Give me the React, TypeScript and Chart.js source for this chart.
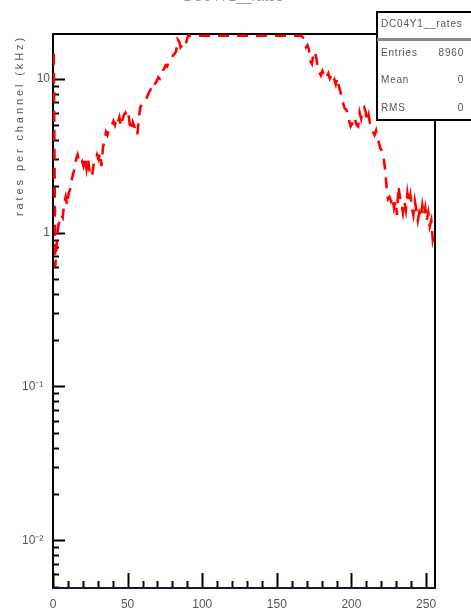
import React, { useEffect, useRef } from "react";
import { Chart, registerables } from "chart.js";

Chart.register(...registerables);

// ---- data ----
const CHANNEL_VALUES: number[] = [
  14.5, 0.6, 0.85, 1.1, 1.2, 1.3, 1.25, 1.55, 1.7, 1.5, 1.8, 1.9, 2.2, 2.4, 2.6, 3.0,
  3.2, 2.9, 2.8, 2.9, 2.7, 3.1, 2.6, 3.0, 2.5, 2.3, 2.45, 2.9, 3.0, 3.2, 3.0, 3.3,
  2.7, 3.6, 3.9, 4.5, 4.3, 4.7, 4.9, 5.0, 5.3, 5.0, 5.5, 5.2, 5.6, 4.9, 5.4, 5.8,
  6.0, 5.7, 6.0, 5.0, 4.6, 5.2, 4.9, 4.5, 4.3, 5.5, 6.5, 6.8, 7.0, 7.3, 7.4, 7.8,
  8.2, 8.5, 8.3, 8.8, 9.3, 9.6, 10.2, 10.0, 10.8, 11.3, 11.6, 12.2, 12.0, 12.8, 13.0, 13.6,
  14.2, 14.5, 15.0, 18.0, 17.5, 16.0, 16.5, 16.8, 16.2, 17.5, 19, 19, 19, 19, 19, 19,
  19, 19, 19, 19, 19, 19, 19, 19, 19, 19, 19, 19, 19, 19, 19, 19,
  19, 19, 19, 19, 19, 19, 19, 19, 19, 19, 19, 19, 19, 19, 19, 19,
  19, 19, 19, 19, 19, 19, 19, 19, 19, 19, 19, 19, 19, 19, 19, 19,
  19, 19, 19, 19, 19, 19, 19, 19, 19, 19, 19, 19, 19, 19, 19, 19,
  19, 19, 19, 19, 19, 19, 19, 18.5, 17.0, 16.0, 16.5, 15.5, 13.0, 12.5, 14.5, 15.0,
  13.5, 11.5, 11.0, 10.5, 11.2, 10.6, 10.9, 10.3, 10.8, 10.0, 10.5, 9.6, 9.9, 9.2, 10.1, 9.0,
  8.3, 7.5, 6.9, 6.4, 6.3, 5.9, 5.3, 4.9, 5.1, 5.6, 5.4, 5.0, 4.9, 6.0, 5.5, 6.3,
  6.5, 6.1, 5.3, 5.8, 5.1, 4.9, 4.5, 4.3, 4.6, 4.1, 3.8, 3.5, 3.4, 3.1, 2.6, 2.0,
  1.65, 1.7, 1.6, 1.7, 1.45, 1.6, 1.3, 2.0, 1.7, 1.55, 1.35, 1.6, 1.4, 1.8, 1.55, 1.75,
  1.45, 1.3, 1.6, 1.4, 1.2, 1.35, 1.25, 1.5, 1.3, 1.45, 1.2, 1.35, 1.1, 1.2, 0.9, 1.0,
];

const X_MIN = 0;
const X_MAX = 256;
const Y_MIN = 0.0049;
const Y_MAX = 19.5;
const X_TICKS = [0, 50, 100, 150, 200, 250];
const X_MINOR_STEP = 10;
const Y_TICKS = [0.01, 0.1, 1, 10];
const Y_TICK_LABELS = ["10\u207B\u00B2\u2007", "10\u207B\u00B9\u2007", "1", "10"];

const Y_TITLE = "rates per channel (kHz)";
const HIST_TITLE = "DC04Y1__rates";
const STATS_TITLE = "DC04Y1__rates";
const STATS_NAMES = ["Entries", "Mean", "RMS"];
const STATS_VALUES = ["8960", "0", "0"];

const FONT = "'Liberation Sans', Arial, sans-serif";

const framePlugin = {
  id: "rootFrame",
  beforeDatasetsDraw(chart: any) {
    const { ctx, chartArea } = chart;
    const { left, right, top, bottom } = chartArea;
    const xs = chart.scales.x;
    const ys = chart.scales.y;
    ctx.save();
    ctx.strokeStyle = "#000";
    ctx.lineWidth = 2;
    // x ticks inside
    for (let v = X_MIN; v <= X_MAX; v += X_MINOR_STEP) {
      const px = Math.round(xs.getPixelForValue(v)) + 0.5;
      const len = v % 50 === 0 ? 15 : 7;
      ctx.beginPath();
      ctx.moveTo(px, bottom);
      ctx.lineTo(px, bottom - len);
      ctx.stroke();
    }
    // y ticks inside (log)
    for (let d = -3; d <= 1; d++) {
      for (let m = 1; m <= 9; m++) {
        const v = m * Math.pow(10, d);
        if (v < Y_MIN || v > Y_MAX) continue;
        const py = Math.round(ys.getPixelForValue(v)) + 0.5;
        const len = m === 1 ? 12 : 6;
        ctx.beginPath();
        ctx.moveTo(left, py);
        ctx.lineTo(left + len, py);
        ctx.stroke();
      }
    }
    // frame
    ctx.lineWidth = 2;
    ctx.strokeStyle = "#000";
    ctx.beginPath();
    ctx.moveTo(left, bottom);
    ctx.lineTo(left, top);
    ctx.lineTo(right, top);
    ctx.lineTo(right, bottom);
    ctx.stroke();
    ctx.strokeStyle = "#14143a";
    ctx.beginPath();
    ctx.moveTo(left - 1, bottom);
    ctx.lineTo(right + 1, bottom);
    ctx.stroke();

    // y axis title
    ctx.fillStyle = "#555";
    ctx.font = `11px ${FONT}`;
    (ctx as any).letterSpacing = "2.9px";
    ctx.translate(20, top + 1);
    ctx.rotate(-Math.PI / 2);
    ctx.textAlign = "right";
    ctx.textBaseline = "middle";
    ctx.fillText(Y_TITLE, 0, 0);
    ctx.restore();
  },
  afterDraw(chart: any) {
    const { ctx } = chart;
    ctx.save();
    // partially visible histogram title at the very top
    ctx.fillStyle = "#999";
    ctx.font = `14px ${FONT}`;
    ctx.textAlign = "center";
    ctx.textBaseline = "alphabetic";
    ctx.fillText(HIST_TITLE, 233, 1);

    // stats box
    const bx = 377;
    const by = 12;
    const bw = 100;
    const bh = 108;
    ctx.fillStyle = "#fff";
    ctx.fillRect(bx, by, bw, bh);
    ctx.strokeStyle = "#000";
    ctx.lineWidth = 2;
    ctx.strokeRect(bx, by, bw, bh);
    ctx.strokeStyle = "#8a8a8a";
    ctx.lineWidth = 3;
    ctx.beginPath();
    ctx.moveTo(bx, 39.5);
    ctx.lineTo(471, 39.5);
    ctx.stroke();

    ctx.fillStyle = "#555";
    ctx.font = `10px ${FONT}`;
    (ctx as any).letterSpacing = "0.8px";
    ctx.textBaseline = "middle";
    ctx.textAlign = "left";
    ctx.fillText(STATS_TITLE, bx + 4, 24);
    const rowY = [53, 80, 108];
    for (let i = 0; i < STATS_NAMES.length; i++) {
      ctx.textAlign = "left";
      ctx.fillText(STATS_NAMES[i], bx + 4, rowY[i]);
      ctx.textAlign = "right";
      ctx.fillText(STATS_VALUES[i], 464, rowY[i]);
    }
    ctx.restore();
  },
};

export default function App() {
  const canvasRef = useRef<HTMLCanvasElement | null>(null);

  useEffect(() => {
    document.body.style.margin = "0";
    const canvas = canvasRef.current;
    if (!canvas) return;
    const points = CHANNEL_VALUES.map((v, i) => ({ x: i + 0.5, y: v }));
    const chart = new Chart(canvas, {
      type: "line",
      data: {
        datasets: [
          {
            data: points,
            borderColor: "#ff0000",
            borderWidth: 2.6,
            borderDash: [11, 8],
            pointRadius: 0,
            tension: 0,
            fill: false,
          },
        ],
      },
      options: {
        responsive: false,
        animation: false,
        events: [],
        layout: { padding: { top: 34, right: 36, left: 0, bottom: 0 } },
        plugins: {
          legend: { display: false },
          tooltip: { enabled: false },
          title: { display: false },
        },
        scales: {
          x: {
            type: "linear",
            min: X_MIN,
            max: X_MAX,
            grid: { display: false, drawTicks: false },
            border: { display: false },
            afterBuildTicks: (scale: any) => {
              scale.ticks = X_TICKS.map((v) => ({ value: v }));
            },
            afterFit: (scale: any) => {
              scale.height = 23;
            },
            ticks: {
              padding: 9,
              maxRotation: 0,
              autoSkip: false,
              color: "#555",
              font: { family: FONT, size: 12 },
              callback: (v: any) => String(v),
            },
          },
          y: {
            type: "logarithmic",
            min: Y_MIN,
            max: Y_MAX,
            grid: { display: false, drawTicks: false },
            border: { display: false },
            afterBuildTicks: (scale: any) => {
              scale.ticks = Y_TICKS.map((v) => ({ value: v }));
            },
            afterFit: (scale: any) => {
              scale.width = 53;
            },
            ticks: {
              padding: 3,
              autoSkip: false,
              color: "#555",
              font: { family: FONT, size: 12 },
              callback: (v: any) => {
                const idx = Y_TICKS.findIndex((t) => Math.abs(t - v) < t * 1e-6);
                return idx >= 0 ? Y_TICK_LABELS[idx] : "";
              },
            },
          },
        },
      },
      plugins: [framePlugin],
    } as any);
    return () => chart.destroy();
  }, []);

  return (
    <div style={{ position: "fixed", left: 0, top: 0, width: 471, height: 611, background: "#fff" }}>
      <canvas ref={canvasRef} width={471} height={611} style={{ display: "block" }} />
    </div>
  );
}
